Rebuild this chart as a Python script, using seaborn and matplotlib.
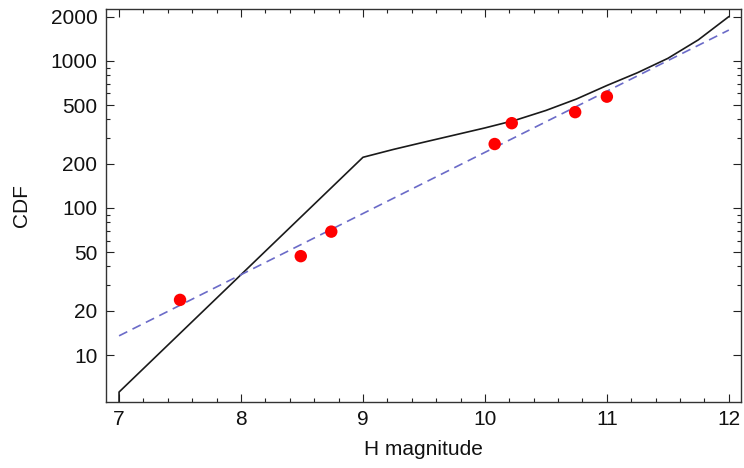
import numpy as np
import pandas as pd
import seaborn as sns
import matplotlib.pyplot as plt
from matplotlib.ticker import FixedLocator, NullFormatter, MultipleLocator

# observed points (red)
obs_h = [7.50, 8.49, 8.74, 10.08, 10.22, 10.74, 11.00]
obs_cdf = [23.7, 47, 69, 272, 377, 448, 571]

# model curve (black, solid)
model_h = [7.0, 7.0, 9.0, 9.25, 9.5, 9.75, 10.0, 10.25, 10.5, 10.75,
           11.0, 11.25, 11.5, 11.75, 12.0]
model_cdf = [1.0, 5.6, 221, 250, 280, 313, 350, 395, 460, 550,
             680, 830, 1040, 1390, 2000]

# power-law fit (blue, dashed)
fit_h = [7.0, 12.0]
fit_cdf = [13.5, 1620]

y_ticks = [10, 20, 50, 100, 200, 500, 1000, 2000]
x_ticks = [7, 8, 9, 10, 11, 12]

sns.set_style("ticks")
plt.rcParams['font.family'] = ['Liberation Sans', 'DejaVu Sans']

fig = plt.figure(figsize=(7.44, 4.68), dpi=100)
ax = fig.add_axes([0.142, 0.141, 0.854, 0.839])

model = pd.DataFrame({"H": model_h, "CDF": model_cdf})
fit = pd.DataFrame({"H": fit_h, "CDF": fit_cdf})
obs = pd.DataFrame({"H": obs_h, "CDF": obs_cdf})

sns.lineplot(data=model, x="H", y="CDF", ax=ax, color="#1a1a1a", lw=1.2,
             sort=False, estimator=None)
sns.lineplot(data=fit, x="H", y="CDF", ax=ax, color="#6b6bc8", lw=1.2,
             dashes=False, estimator=None)
ax.lines[-1].set_dashes([5.5, 3.5])
sns.scatterplot(data=obs, x="H", y="CDF", ax=ax, color="#ff0000", s=80,
                edgecolor="none", zorder=5)

ax.set_yscale("log")
ax.set_xlim(6.89, 12.10)
ax.set_ylim(4.79, 2240)

ax.yaxis.set_major_locator(FixedLocator(y_ticks))
ax.yaxis.set_minor_locator(FixedLocator([30, 40, 60, 70, 80, 90, 300, 400, 600, 700, 800, 900]))
ax.yaxis.set_minor_formatter(NullFormatter())
ax.set_yticklabels([str(t) for t in y_ticks])
ax.xaxis.set_major_locator(FixedLocator(x_ticks))
ax.xaxis.set_minor_locator(MultipleLocator(0.2))
ax.set_xticklabels([str(t) for t in x_ticks])

ax.tick_params(which="both", direction="in", top=True, right=True,
               labelsize=15, color="#222222", labelcolor="#111111",
               width=0.8, pad=6)
ax.tick_params(which="major", length=6)
ax.tick_params(which="minor", length=3)
for s in ax.spines.values():
    s.set_linewidth(1.0)
    s.set_color("#333333")

ax.set_xlabel("H magnitude", fontsize=15, labelpad=8, color="#111111")
ax.set_ylabel("CDF", fontsize=15, labelpad=14, color="#111111")

fig.savefig("out.png", dpi=100)
